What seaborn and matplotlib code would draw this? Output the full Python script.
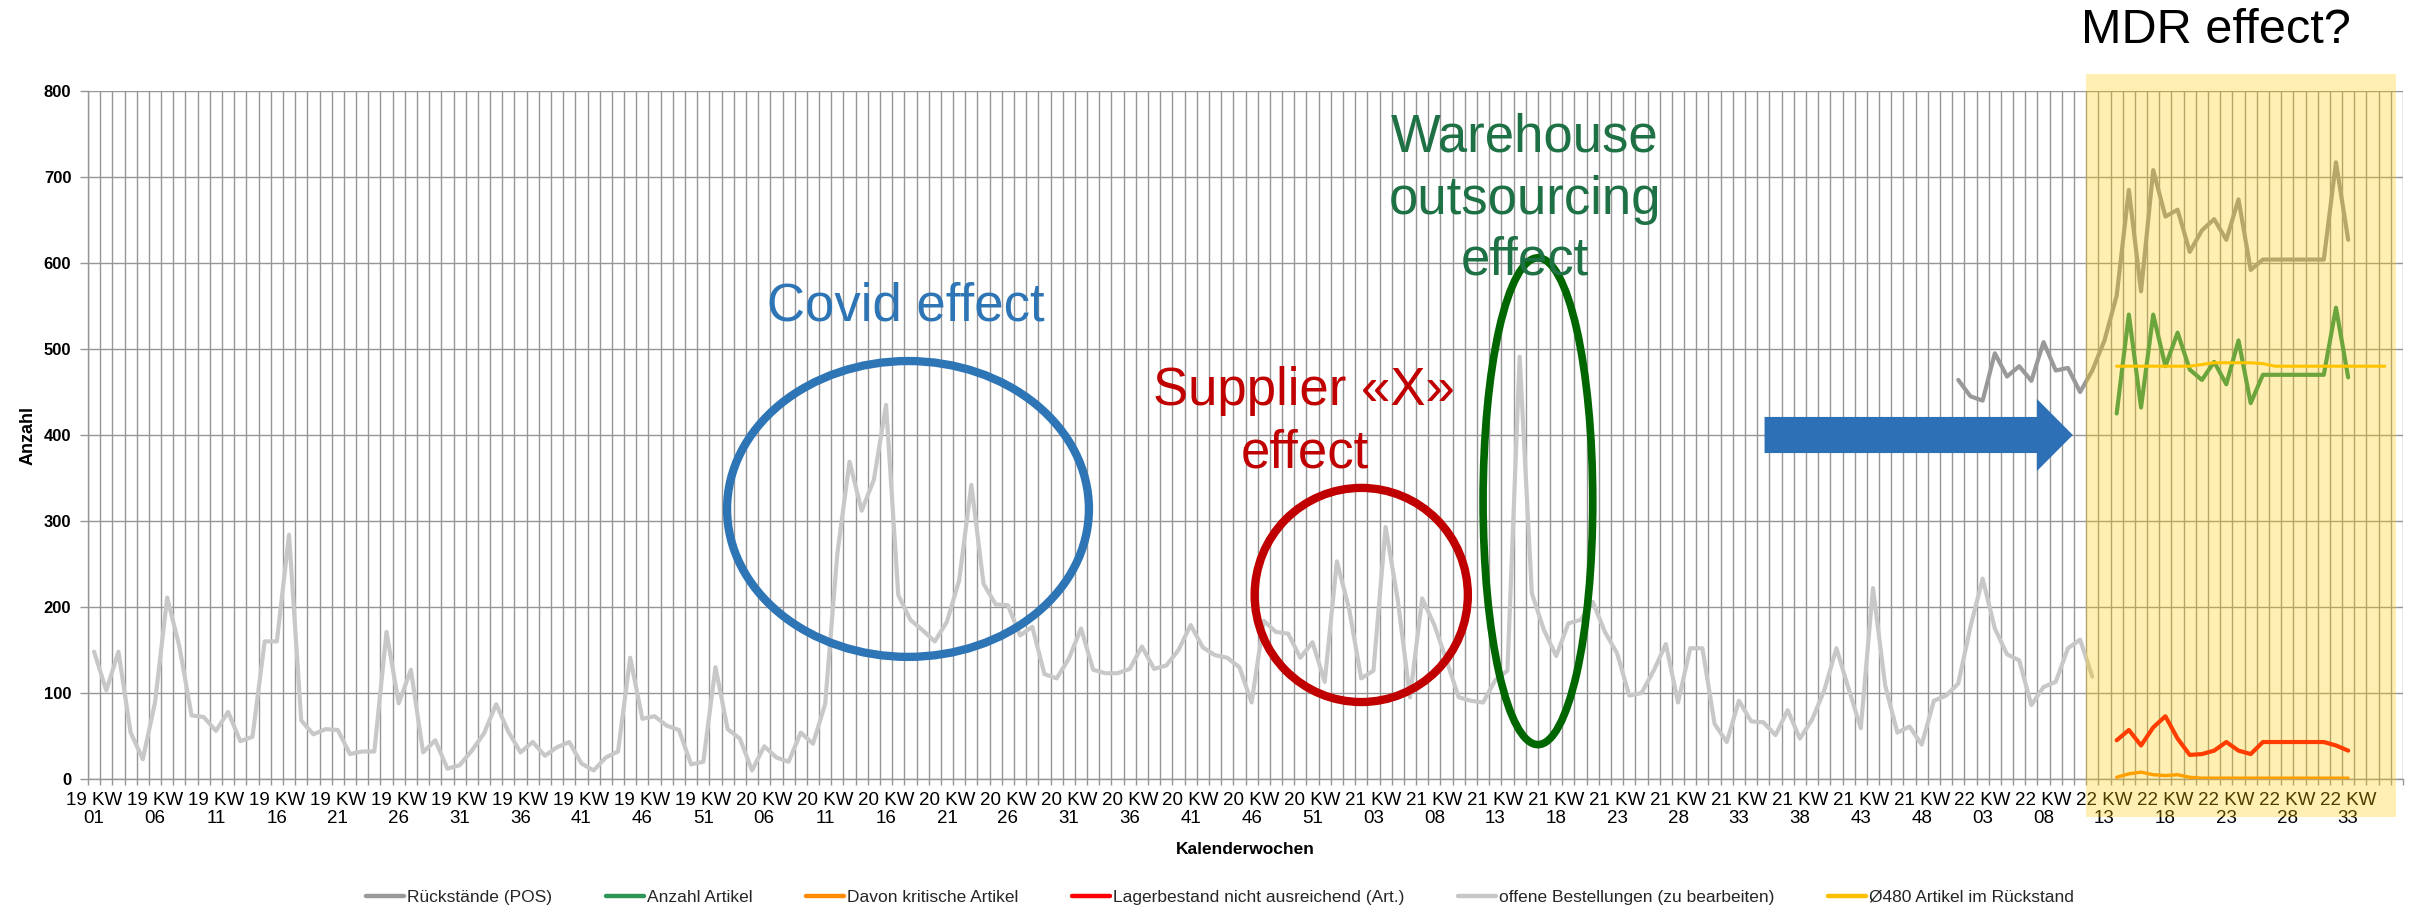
import numpy as np
import matplotlib
matplotlib.use("Agg")
import matplotlib.pyplot as plt
import seaborn as sns
from matplotlib.patches import Ellipse, FancyArrow, Rectangle

# ---------------- data ----------------
n_weeks = 190  # number of weekly categories on the x axis

tick_labels = [
    "19 KW\n01", "19 KW\n06", "19 KW\n11", "19 KW\n16", "19 KW\n21", "19 KW\n26",
    "19 KW\n31", "19 KW\n36", "19 KW\n41", "19 KW\n46", "19 KW\n51",
    "20 KW\n06", "20 KW\n11", "20 KW\n16", "20 KW\n21", "20 KW\n26", "20 KW\n31",
    "20 KW\n36", "20 KW\n41", "20 KW\n46", "20 KW\n51",
    "21 KW\n03", "21 KW\n08", "21 KW\n13", "21 KW\n18", "21 KW\n23", "21 KW\n28",
    "21 KW\n33", "21 KW\n38", "21 KW\n43", "21 KW\n48",
    "22 KW\n03", "22 KW\n08", "22 KW\n13", "22 KW\n18", "22 KW\n23", "22 KW\n28",
    "22 KW\n33",
]

# offene Bestellungen (zu bearbeiten) – weeks 0..164
offene_start = 0
offene = [
    148, 103, 148, 54, 23, 89, 211, 154, 74, 72,
    56, 78, 44, 49, 160, 160, 284, 68, 52, 58,
    57, 29, 32, 32, 171, 88, 127, 31, 45, 12,
    16, 33, 53, 87, 55, 31, 43, 27, 37, 43,
    18, 10, 25, 32, 141, 70, 73, 62, 57, 17,
    20, 130, 58, 47, 10, 38, 25, 20, 54, 41,
    87, 262, 369, 312, 348, 435, 214, 185, 173, 160,
    183, 231, 342, 227, 203, 202, 167, 177, 122, 117,
    140, 175, 127, 123, 123, 128, 154, 128, 132, 150,
    179, 153, 144, 141, 130, 89, 184, 171, 169, 141,
    159, 113, 253, 198, 117, 126, 293, 208, 95, 210,
    179, 138, 95, 91, 89, 115, 126, 491, 216, 173,
    143, 181, 185, 206, 171, 146, 97, 100, 126, 157,
    89, 152, 152, 64, 43, 91, 67, 66, 51, 80,
    47, 69, 103, 152, 105, 59, 222, 109, 54, 61,
    40, 91, 97, 111, 177, 233, 175, 145, 138, 86,
    107, 113, 152, 162, 119,
]

# Rückstände (POS) – weeks 153..185
rueck_start = 153
rueck = [
    464, 445, 440, 495, 468, 480, 463, 508, 475, 478,
    450, 475, 510, 562, 685, 567, 708, 654, 662, 613,
    638, 651, 627, 674, 592, 604, 604, 604, 604, 604,
    604, 717, 627,
]

# MDR period series – weeks 166..185
mdr_start = 166
anzahl = [425, 540, 432, 540, 480, 519, 476, 464, 485, 459,
          510, 437, 470, 470, 470, 470, 470, 470, 548, 467]
kritisch = [2, 6, 8, 5, 4, 5, 2, 1, 1, 1,
            1, 1, 1, 1, 1, 1, 1, 1, 1, 1]
lager = [45, 57, 39, 60, 73, 47, 28, 29, 33, 43,
         33, 29, 43, 43, 43, 43, 43, 43, 39, 33]

# Ø480 Artikel im Rückstand – weeks 166..188
avg_start = 166
avg480 = [480, 480, 480, 480, 480, 480, 480, 482, 484, 484,
          484, 484, 483, 480, 480, 480, 480, 480, 480, 480,
          480, 480, 480]

# ---------------- style ----------------
sns.set_theme(style="white")
plt.rcParams["font.family"] = ["Liberation Sans", "DejaVu Sans"]

grid_c = "#969696"
c_rueck = "#999999"
c_anzahl = "#2E9558"
c_krit = "#FF8C00"
c_lager = "#FF0000"
c_offene = "#C8C8C8"
c_avg = "#FFC000"

fig = plt.figure(figsize=(24.15, 9.07), dpi=100)
ax = fig.add_axes([0.03644, 0.14112, 0.95859, 0.75855])


def xy(vals, start):
    return np.arange(start, start + len(vals)), np.asarray(vals, dtype=float)


series = [
    ("Rückstände (POS)", rueck, rueck_start, c_rueck, 3.0, 3),
    ("Anzahl Artikel", anzahl, mdr_start, c_anzahl, 3.0, 4),
    ("Davon kritische Artikel", kritisch, mdr_start, c_krit, 2.4, 4),
    ("Lagerbestand nicht ausreichend (Art.)", lager, mdr_start, c_lager, 3.0, 4),
    ("offene Bestellungen (zu bearbeiten)", offene, offene_start, c_offene, 3.0, 2),
    ("Ø480 Artikel im Rückstand", avg480, avg_start, c_avg, 2.2, 5),
]
for label, vals, start, color, lw, z in series:
    x, y = xy(vals, start)
    sns.lineplot(x=x, y=y, ax=ax, color=color, linewidth=lw, label=label,
                 zorder=z, solid_joinstyle="round", solid_capstyle="round")

# ---------------- axes ----------------
ax.set_xlim(-0.5, n_weeks - 0.5)
ax.set_ylim(0, 800)
ax.set_yticks(range(0, 801, 100))
ax.set_xticks(np.arange(0, 5 * len(tick_labels), 5))
ax.set_xticklabels(tick_labels, fontsize=13.5, linespacing=1.15)
ax.set_xticks(np.arange(-0.5, n_weeks, 1), minor=True)
for t in ax.get_yticklabels():
    t.set_fontweight("bold")
    t.set_fontsize(12)

ax.grid(False)
ax.grid(True, which="minor", axis="x", color=grid_c, lw=1.0)
ax.grid(True, which="major", axis="y", color=grid_c, lw=1.0)
ax.tick_params(axis="x", which="major", length=0, pad=9, bottom=True, labelcolor="black")
ax.tick_params(axis="x", which="minor", length=4, width=1, color=grid_c, bottom=True, direction="out")
ax.tick_params(axis="y", which="major", length=6, width=1, color=grid_c, left=True, pad=6, labelcolor="black")
for s in ["top", "right"]:
    ax.spines[s].set_visible(False)
for s in ["left", "bottom"]:
    ax.spines[s].set_color(grid_c)
    ax.spines[s].set_linewidth(1.0)

ax.set_xlabel("Kalenderwochen", fontsize=12.5, fontweight="bold", color="black")
ax.set_ylabel("Anzahl", fontsize=13, fontweight="bold", color="black")
ax.xaxis.set_label_coords(0.5, -0.103)
ax.xaxis.label.set_va("center")
ax.yaxis.set_label_coords(-0.0259, 0.5)
ax.yaxis.label.set_va("center")

# ---------------- annotations ----------------
ax.add_patch(Ellipse((66.8, 314), 29.7, 344, fill=False, ec="#2E75B6", lw=6, zorder=6))
ax.add_patch(Ellipse((104.0, 214), 17.5, 249, fill=False, ec="#C00000", lw=6, zorder=6))
ax.add_patch(Ellipse((118.5, 323), 9.0, 566, fill=False, ec="#006600", lw=5.5, zorder=6))
ax.add_patch(FancyArrow(137.1, 400, 162.4 - 137.1, 0, width=42, head_width=84,
                        head_length=2.95, length_includes_head=True,
                        color="#2E70B6", lw=0, zorder=6))

ax.text(66.6, 533, "Covid effect", color="#2E75B6", fontsize=38, ha="center", va="baseline", zorder=7)
ax.text(99.3, 435, "Supplier «X»", color="#C00000", fontsize=38, ha="center", va="baseline", zorder=7)
ax.text(99.4, 362, "effect", color="#C00000", fontsize=38, ha="center", va="baseline", zorder=7)
ax.text(117.4, 730, "Warehouse", color="#1E7145", fontsize=38, ha="center", va="baseline", zorder=7)
ax.text(117.4, 657, "outsourcing", color="#1E7145", fontsize=38, ha="center", va="baseline", zorder=7)
ax.text(117.4, 587, "effect", color="#1E7145", fontsize=38, ha="center", va="baseline", zorder=7)

# ---------------- legend ----------------
handles, labels = ax.get_legend_handles_labels()
leg = ax.legend(handles, labels, loc="center", bbox_to_anchor=(1220 / 2415, 1 - 897 / 907),
                bbox_transform=fig.transFigure, ncol=6, frameon=False, fontsize=12.5,
                handlelength=2.2, handletextpad=0.15, columnspacing=3.1)
for h in leg.legend_handles:
    h.set_linewidth(3.2)

# ---------------- MDR highlight ----------------
fig.add_artist(Rectangle((0.8638, 0.0992), 0.1284, 0.8192, transform=fig.transFigure,
                         facecolor="#FFCC00", alpha=0.3, edgecolor="none", zorder=10))
fig.text(0.9176, 0.966, "MDR effect?", fontsize=35, ha="center", va="center", color="black", zorder=11)

fig.savefig("out.png", dpi=100)
